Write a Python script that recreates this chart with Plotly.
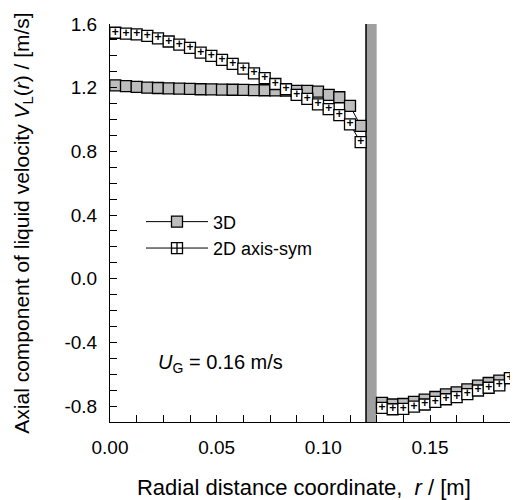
import plotly.graph_objects as go

# ---- data ----
r_inner = [0.0025 + 0.005 * i for i in range(24)]
r_outer = [0.1275 + 0.005 * i for i in range(13)]

v3d_inner = [1.215, 1.21, 1.205, 1.20, 1.198, 1.196, 1.194, 1.192, 1.19, 1.189, 1.188, 1.187,
             1.186, 1.185, 1.184, 1.183, 1.182, 1.18, 1.18, 1.175, 1.155, 1.14, 1.086, 0.96]
v2d_inner = [1.545, 1.54, 1.535, 1.525, 1.51, 1.49, 1.47, 1.45, 1.42, 1.40, 1.375, 1.35,
             1.32, 1.29, 1.26, 1.223, 1.19, 1.155, 1.13, 1.095, 1.065, 1.028, 0.97, 0.858]

v3d_outer = [-0.78, -0.79, -0.787, -0.773, -0.76, -0.743, -0.727, -0.714, -0.695, -0.672,
             -0.655, -0.64, -0.625]
v2d_outer = [-0.811, -0.82, -0.817, -0.803, -0.79, -0.773, -0.757, -0.744, -0.725, -0.702,
             -0.685, -0.67, -0.625]

wall_r = [0.12, 0.125]

x_tick_vals = [0.0, 0.05, 0.10, 0.15]
x_tick_text = ["0.00", "0.05", "0.10", "0.15"]
y_tick_vals = [-0.8, -0.4, 0.0, 0.4, 0.8, 1.2, 1.6]
y_tick_text = ["-0.8", "-0.4", "0.0", "0.4", "0.8", "1.2", "1.6"]

FONT = "Liberation Sans, Arial, Helvetica, sans-serif"

fig = go.Figure()

# wall
fig.add_shape(type="rect", xref="x", yref="paper", x0=wall_r[0], x1=wall_r[1], y0=0, y1=1,
              fillcolor="#a0a0a0", line=dict(width=0), layer="below")
fig.add_shape(type="line", xref="x", yref="paper", x0=wall_r[0], x1=wall_r[0], y0=0, y1=1,
              line=dict(color="black", width=1.5), layer="below")

m3d = dict(symbol="square", size=11, color="#bdbdbd", line=dict(color="black", width=1.3))
m2d = dict(symbol="square", size=11, color="white", line=dict(color="black", width=1.3))
ln = dict(color="black", width=1)

for i, (rr, vv) in enumerate([(r_inner, v3d_inner), (r_outer, v3d_outer)]):
    fig.add_trace(go.Scatter(x=rr, y=vv, mode="lines+markers", name="3D", legendgroup="3d",
                             showlegend=(i == 0), marker=m3d, line=ln))
for rr, vv in [(r_inner, v2d_inner), (r_outer, v2d_outer)]:
    fig.add_trace(go.Scatter(x=rr, y=vv, mode="lines+markers+text", name="2D axis-sym",
                             legendgroup="2d", showlegend=False, marker=m2d, line=ln,
                             text=["<b>+</b>"] * len(rr), textposition="middle center",
                             textfont=dict(size=12, color="black", family=FONT)))
# legend entry for the 2D series (square with plus)
fig.add_trace(go.Scatter(x=[None], y=[None], mode="lines+markers", name="2D axis-sym",
                         legendgroup="2d", showlegend=True, line=ln,
                         marker=dict(symbol="square-cross", size=11, color="white",
                                     line=dict(color="black", width=1.3))))

fig.add_annotation(xref="paper", yref="paper", x=0.115, y=0.148, xanchor="left", yanchor="middle",
                   text="<i>U</i><sub>G</sub> = 0.16 m/s", showarrow=False,
                   font=dict(size=20, color="black", family=FONT))

fig.update_layout(
    width=519, height=500,
    margin=dict(l=110, r=9, t=24, b=78),
    plot_bgcolor="white", paper_bgcolor="white",
    font=dict(family=FONT, size=18, color="black"),
    legend=dict(x=0.0775, y=0.47, xanchor="left", yanchor="middle", bgcolor="rgba(0,0,0,0)",
                font=dict(size=18), tracegroupgap=0, itemwidth=62),
    xaxis=dict(range=[0, 0.1875], showline=True, linecolor="black", linewidth=1,
               ticks="inside", ticklen=7, tickcolor="black", tickvals=x_tick_vals,
               ticktext=x_tick_text, ticklabelstandoff=8, tickfont=dict(size=19),
               minor=dict(ticks="inside", ticklen=7, tickcolor="black", dtick=0.0125, tick0=0),
               showgrid=False, zeroline=False, automargin=False,
               title=dict(text="Radial distance coordinate,&nbsp; <i>r</i> / [m]&nbsp;&nbsp;",
                          standoff=26, font=dict(size=22))),
    yaxis=dict(range=[-0.9, 1.6], showline=True, linecolor="black", linewidth=1,
               ticks="inside", ticklen=7, tickcolor="black", tickvals=y_tick_vals,
               ticktext=y_tick_text, ticklabelstandoff=8, tickfont=dict(size=19),
               minor=dict(ticks="inside", ticklen=7, tickcolor="black", dtick=0.1, tick0=0),
               showgrid=False, zeroline=False, automargin=False,
               title=dict(text="Axial component of liquid velocity <i>V</i><sub>L</sub>(<i>r</i>) / [m/s]",
                          standoff=29, font=dict(size=21))),
)

fig.write_html("out.html")
